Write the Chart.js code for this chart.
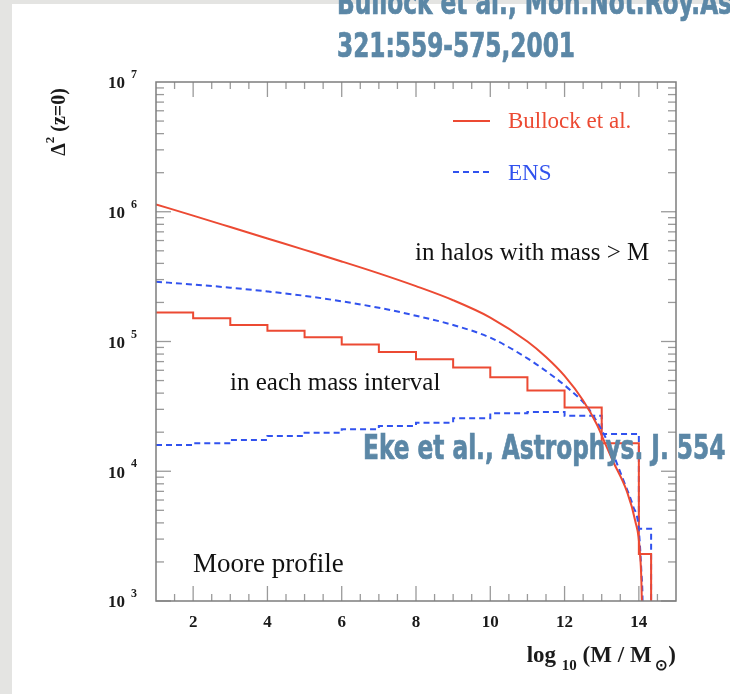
<!DOCTYPE html>
<html>
<head>
<meta charset="utf-8">
<script src="https://cdn.jsdelivr.net/npm/chart.js@4.4.1/dist/chart.umd.min.js"></script>
<style>
    html, body { margin: 0; padding: 0; background: #e4e4e2; }
    #wrap { position: relative; width: 730px; height: 694px; overflow: hidden; }
    canvas { position: absolute; left: 0; top: 0; }
</style>
</head>
<body>
<div id="wrap"><canvas id="massChart" width="730" height="694"></canvas></div>
<script>
// ========================================
// Data
// ========================================
// histogram bins ("in each mass interval"), log10 M edges
const binEdges = [1, 2, 3, 4, 5, 6, 7, 8, 9, 10, 11, 12, 13, 14, 14.33];
const bullockPerBin = [1.67e5, 1.51e5, 1.34e5, 1.21e5, 1.08e5, 9.5e4, 8.3e4, 7.3e4, 6.3e4, 5.3e4, 4.2e4, 3.1e4, 1.64e4, 2.3e3];
const ensPerBin = [1.59e4, 1.64e4, 1.74e4, 1.87e4, 1.98e4, 2.11e4, 2.23e4, 2.37e4, 2.56e4, 2.8e4, 2.86e4, 2.68e4, 1.94e4, 3.6e3];
const histFloor = 1; // histogram drops to zero after the last bin

// cumulative ("in halos with mass > M")
const bullockMass = [1, 2, 3, 4, 5, 6, 7, 8, 9, 10, 11, 11.5, 12, 12.5, 12.87, 13.1, 13.3, 13.67, 13.9, 14.03, 14.08, 14.1];
const bullockCum = [1.14e6, 9.33e5, 7.62e5, 6.22e5, 5.08e5, 4.14e5, 3.35e5, 2.67e5, 2.08e5, 1.53e5, 1.0e5, 7.59e4, 5.43e4, 3.51e4, 2.29e4, 1.62e4, 1.2e4, 7.08e3, 4.17e3, 2.34e3, 1.0e3, 300];
const ensMass = [1, 2, 3, 4, 5, 6, 7, 8, 9, 10, 11, 11.7, 12.15, 12.6, 12.95, 13.22, 13.58, 13.85, 13.99, 14.07, 14.1, 14.12];
const ensCum = [2.89e5, 2.75e5, 2.6e5, 2.43e5, 2.25e5, 2.04e5, 1.82e5, 1.58e5, 1.34e5, 1.07e5, 7.41e4, 5.37e4, 4.23e4, 3.16e4, 2.2e4, 1.55e4, 8.57e3, 5.33e3, 3.74e3, 1.64e3, 1.0e3, 300];

// axes
const xTickLabels = [2, 4, 6, 8, 10, 12, 14];
const yDecades = [3, 4, 5, 6, 7];

const RED = '#ec4a33';
const BLUE = '#3152ee';
const SERIF = '"Liberation Serif", "Times New Roman", serif';
const NARROW = '"Liberation Sans Narrow", "DejaVu Sans Condensed", "Liberation Sans", sans-serif';
const NOTE = '#5b87a6';

function toPoints(xs, ys) {
    return xs.map((x, i) => ({ x: x, y: ys[i] }));
}

function histPoints(edges, values) {
    return edges.map((x, i) => ({ x: x, y: i < values.length ? values[i] : histFloor }));
}

// ========================================
// Frame, ticks, labels and notes
// ========================================
const backdrop = {
    id: 'backdrop',
    beforeDraw(chart) {
        const ctx = chart.ctx;
        ctx.save();
        ctx.fillStyle = '#e4e4e2';
        ctx.fillRect(0, 0, chart.width, chart.height);
        ctx.fillStyle = '#ffffff';
        ctx.fillRect(12, 4, chart.width - 12, chart.height - 4);
        ctx.restore();
    }
};

function line(ctx, x1, y1, x2, y2) {
    ctx.beginPath();
    ctx.moveTo(x1, y1);
    ctx.lineTo(x2, y2);
    ctx.stroke();
}

const axesDecor = {
    id: 'axesDecor',
    afterDraw(chart) {
        const ctx = chart.ctx;
        const { left, right, top, bottom } = chart.chartArea;
        const xs = chart.scales.x;
        const ys = chart.scales.y;
        ctx.save();

        // ticks (inside, all four sides)
        ctx.strokeStyle = '#9a9a9a';
        ctx.lineWidth = 1.3;
        for (let v = 1.5; v < 15; v += 0.5) {
            const px = xs.getPixelForValue(v);
            const len = xTickLabels.includes(v) ? 15 : 7;
            line(ctx, px, bottom, px, bottom - len);
            line(ctx, px, top, px, top + len);
        }
        yDecades.slice(0, -1).forEach(e => {
            for (let m = 1; m < 10; m++) {
                const py = ys.getPixelForValue(m * Math.pow(10, e));
                const len = m === 1 ? 15 : 8;
                line(ctx, left, py, left + len, py);
                line(ctx, right, py, right - len, py);
            }
        });

        // frame
        ctx.strokeStyle = '#7d7d7d';
        ctx.lineWidth = 1.5;
        ctx.strokeRect(left, top, right - left, bottom - top);

        // x tick labels
        ctx.fillStyle = '#1a1a1a';
        ctx.font = 'bold 17px ' + SERIF;
        ctx.textAlign = 'center';
        ctx.textBaseline = 'middle';
        xTickLabels.forEach(v => ctx.fillText(String(v), xs.getPixelForValue(v), 623));

        // y tick labels 10^n
        yDecades.forEach(e => {
            const py = ys.getPixelForValue(Math.pow(10, e));
            ctx.font = 'bold 17px ' + SERIF;
            ctx.textAlign = 'right';
            ctx.textBaseline = 'middle';
            ctx.fillText('10', 125, py + 2);
            ctx.font = 'bold 12px ' + SERIF;
            ctx.textAlign = 'left';
            ctx.fillText(String(e), 131, py - 7);
        });

        // x title: log10 (M / Msun)
        ctx.textAlign = 'left';
        ctx.textBaseline = 'alphabetic';
        const big = 'bold 23px ' + SERIF;
        const small = 'bold 15px ' + SERIF;
        const parts = [
            ['log', big, 0], [' ', big, 0], ['10', small, 8], [' (M / M', big, 0],
            [' \u2299', small, 8], [')', big, 0]
        ];
        let total = 0;
        parts.forEach(p => { ctx.font = p[1]; total += ctx.measureText(p[0]).width; });
        let cx = 676 - total;
        parts.forEach(p => {
            ctx.font = p[1];
            ctx.fillText(p[0], cx, 662 + p[2]);
            cx += ctx.measureText(p[0]).width;
        });

        // y title: Delta^2 (z=0), rotated
        ctx.save();
        ctx.translate(65, 122);
        ctx.rotate(-Math.PI / 2);
        const yParts = [['\u0394', 'bold 20px ' + SERIF, 0], ['2', 'bold 13px ' + SERIF, -11], [' (z=0)', 'bold 20px ' + SERIF, 0]];
        total = 0;
        yParts.forEach(p => { ctx.font = p[1]; total += ctx.measureText(p[0]).width; });
        cx = -total / 2;
        yParts.forEach(p => {
            ctx.font = p[1];
            ctx.fillText(p[0], cx, p[2]);
            cx += ctx.measureText(p[0]).width;
        });
        ctx.restore();

        // legend
        ctx.lineWidth = 2;
        ctx.strokeStyle = RED;
        line(ctx, 453, 121, 490, 121);
        ctx.strokeStyle = BLUE;
        ctx.setLineDash([6, 4]);
        line(ctx, 453, 172, 490, 172);
        ctx.setLineDash([]);
        ctx.font = '23px ' + SERIF;
        ctx.fillStyle = RED;
        ctx.fillText('Bullock et al.', 508, 128);
        ctx.fillStyle = BLUE;
        ctx.fillText('ENS', 508, 180);

        // annotations
        ctx.fillStyle = '#111111';
        ctx.font = '25px ' + SERIF;
        ctx.fillText('in halos with mass > M', 415, 260);
        ctx.fillText('in each mass interval', 230, 390);
        ctx.font = '27px ' + SERIF;
        ctx.fillText('Moore profile', 193, 572);

        // slide notes (condensed bold)
        ctx.font = 'bold 33px ' + NARROW;
        ctx.fillStyle = NOTE;
        ctx.strokeStyle = NOTE;
        ctx.lineWidth = 0.7;
        const sx = 238 / ctx.measureText('321:559-575,2001').width;
        const note = (txt, x, y) => {
            ctx.save();
            ctx.translate(x, y);
            ctx.scale(sx, 1);
            ctx.fillText(txt, 0, 0);
            ctx.strokeText(txt, 0, 0);
            ctx.restore();
        };
        note('Bullock et al., Mon.Not.Roy.As', 337, 14);
        note('321:559-575,2001', 337, 57);
        note('Eke et al., Astrophys. J. 554', 363, 459);

        ctx.restore();
    }
};

// ========================================
// Chart
// ========================================
const ctx = document.getElementById('massChart');
new Chart(ctx, {
    type: 'line',
    data: {
        datasets: [
            {
                label: 'Bullock et al. (cumulative)',
                data: toPoints(bullockMass, bullockCum),
                borderColor: RED,
                borderWidth: 2,
                pointRadius: 0,
                cubicInterpolationMode: 'monotone'
            },
            {
                label: 'ENS (cumulative)',
                data: toPoints(ensMass, ensCum),
                borderColor: BLUE,
                borderWidth: 2,
                borderDash: [6, 4],
                pointRadius: 0,
                cubicInterpolationMode: 'monotone'
            },
            {
                label: 'Bullock et al. (per bin)',
                data: histPoints(binEdges, bullockPerBin),
                borderColor: RED,
                borderWidth: 2,
                pointRadius: 0,
                stepped: 'before'
            },
            {
                label: 'ENS (per bin)',
                data: histPoints(binEdges, ensPerBin),
                borderColor: BLUE,
                borderWidth: 2,
                borderDash: [6, 4],
                pointRadius: 0,
                stepped: 'before'
            }
        ]
    },
    options: {
        responsive: false,
        animation: false,
        events: [],
        layout: { padding: { left: 156, top: 82, right: 54, bottom: 93 } },
        scales: {
            x: { type: 'linear', min: 1, max: 15, display: false },
            y: { type: 'logarithmic', min: 1e3, max: 1e7, display: false }
        },
        plugins: {
            legend: { display: false },
            tooltip: { enabled: false }
        }
    },
    plugins: [backdrop, axesDecor]
});
</script>
</body>
</html>
